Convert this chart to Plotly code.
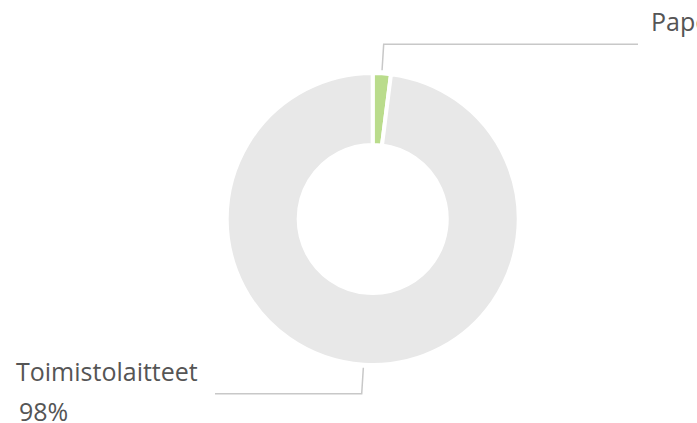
import math
import plotly.graph_objects as go

# ---- data ----
categories = ["Paperi", "Toimistolaitteet"]
values = [2, 98]
percent_labels = ["2%", "98%"]
colors = ["#badc8c", "#e8e8e8"]

W, H = 697, 423
CX, CY, R = 372.7, 219.0, 146.0  # pie centre and radius in pixels
HOLE = 0.507

fig = go.Figure(
    go.Pie(
        labels=categories,
        values=values,
        sort=False,
        direction="clockwise",
        rotation=0,
        hole=HOLE,
        textinfo="none",
        hoverinfo="label+percent",
        marker=dict(colors=colors, line=dict(color="white", width=4)),
        showlegend=False,
        domain=dict(
            x=[(CX - R) / W, (CX + R) / W],
            y=[1 - (CY + R) / H, 1 - (CY - R) / H],
        ),
    )
)

def px(x):
    return x / W

def py(y):
    return 1 - y / H

# leader lines and labels, placed at slice mid-angles
total = sum(values)
start = 0.0
shapes = []
annotations = []
font = dict(family="Open Sans", size=25, color="#555555")
RV = 144.0
for i, (cat, v) in enumerate(zip(categories, values)):
    mid = start + v / total * 360 / 2
    start += v / total * 360
    a = math.radians(mid)
    x0 = CX + (RV + 5) * math.sin(a)
    y0 = CY - (RV + 5) * math.cos(a)
    x1 = CX + (RV + 31) * math.sin(a)
    y1 = CY - (RV + 31) * math.cos(a)
    right = math.sin(a) >= 0
    x2 = 638 if right else 215
    shapes.append(dict(
        type="path", xref="paper", yref="paper",
        path=f"M {px(x0)} {py(y0)} L {px(x1)} {py(y1)} L {px(x2)} {py(y1)}",
        line=dict(color="#c8c8c8", width=1.5),
    ))
    if right:
        annotations.append(dict(
            x=px(x2 + 11), y=py(y1 - 4), xref="paper", yref="paper",
            text=cat, showarrow=False, xanchor="left", yanchor="bottom",
            font=font,
        ))
    else:
        annotations.append(dict(
            x=px(x2 - 15), y=py(y1 - 4), xref="paper", yref="paper",
            text=cat, showarrow=False, xanchor="right", yanchor="bottom",
            font=font,
        ))
        annotations.append(dict(
            x=px(17), y=py(y1 - 2), xref="paper", yref="paper",
            text=percent_labels[i], showarrow=False, xanchor="left", yanchor="top",
            font=font,
        ))

fig.update_layout(
    width=W, height=H,
    margin=dict(l=0, r=0, t=0, b=0),
    paper_bgcolor="white", plot_bgcolor="white",
    shapes=shapes, annotations=annotations,
)

fig.write_html(
    "out.html",
    config={"displayModeBar": False},
    post_script="document.body.style.margin='0';document.body.style.overflow='hidden';",
)
